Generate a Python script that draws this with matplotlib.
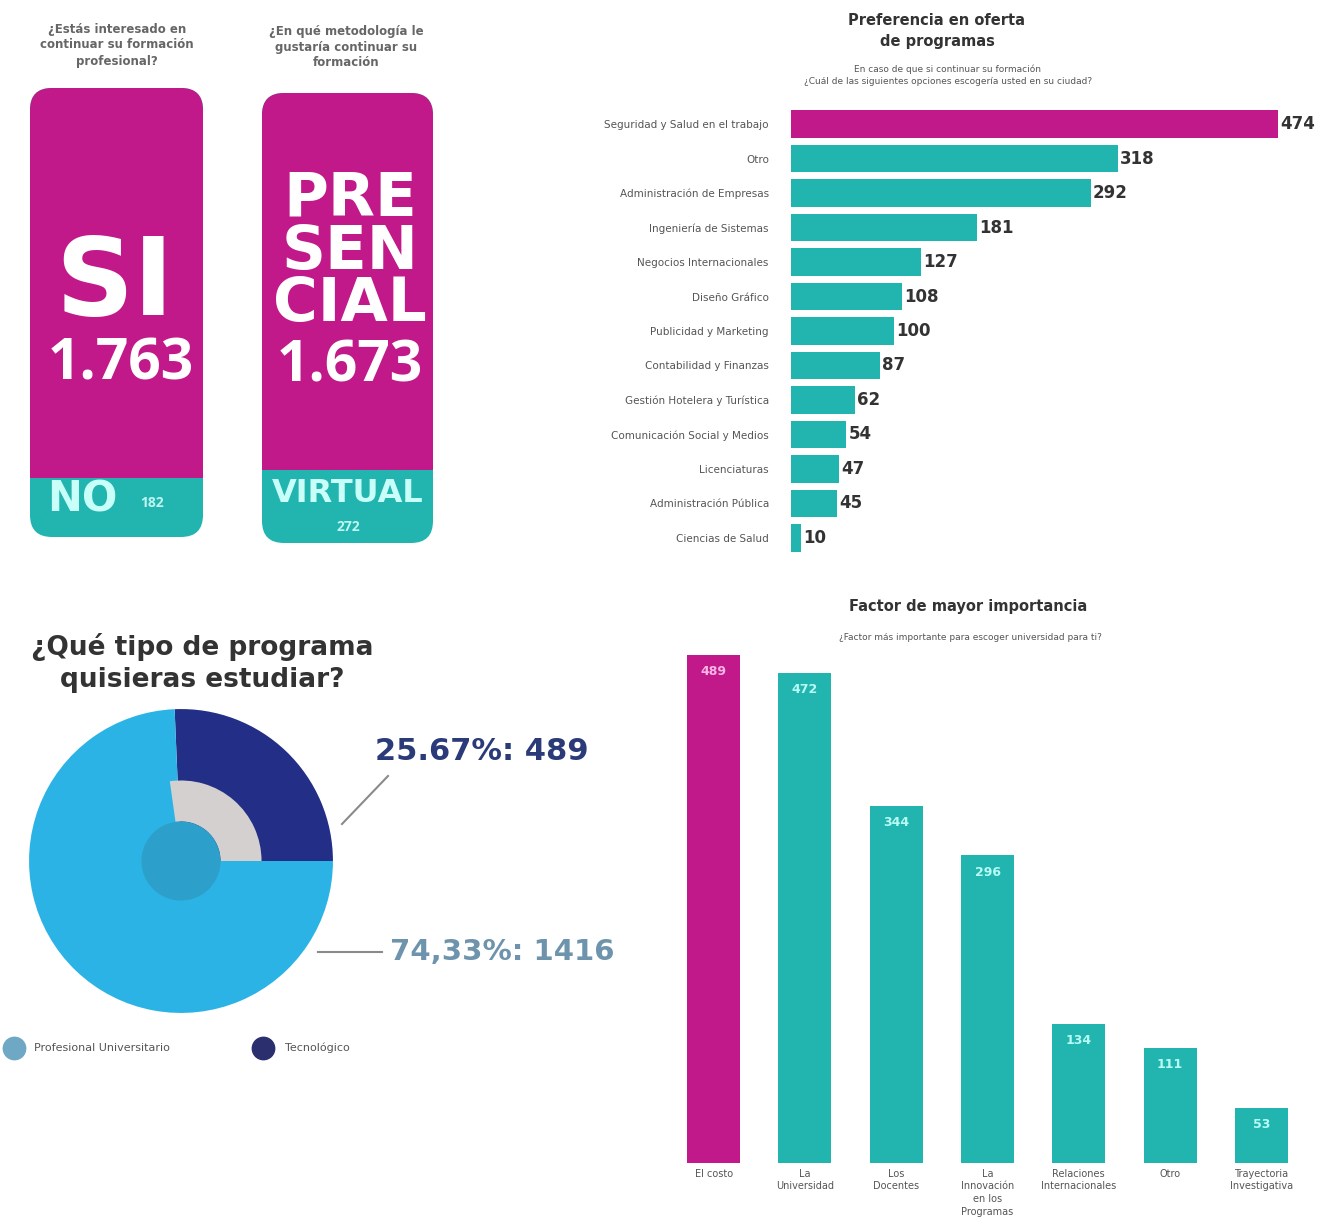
import numpy as np
import matplotlib
matplotlib.use('Agg')
import matplotlib.pyplot as plt
from matplotlib.patches import FancyBboxPatch, Rectangle, Wedge, Circle

# === Datos ===
interes_si = "1.763"
interes_no = "182"
metodo_presencial = "1.673"
metodo_virtual = "272"

programas = ["Seguridad y Salud en el trabajo", "Otro", "Administración de Empresas",
             "Ingeniería de Sistemas", "Negocios Internacionales", "Diseño Gráfico",
             "Publicidad y Marketing", "Contabilidad y Finanzas", "Gestión Hotelera y Turística",
             "Comunicación Social y Medios", "Licenciaturas", "Administración Pública",
             "Ciencias de Salud"]
programas_val = [474, 318, 292, 181, 127, 108, 100, 87, 62, 54, 47, 45, 10]

tipos = ["Tecnológico", "Profesional Universitario"]
tipos_val = [489, 1416]
tipos_pct = ["25.67%", "74,33%"]

factores = ["El costo", "La\nUniversidad", "Los\nDocentes", "La\nInnovación\nen los\nProgramas",
            "Relaciones\nInternacionales", "Otro", "Trayectoria\nInvestigativa"]
factores_val = [489, 472, 344, 296, 134, 111, 53]

# === Colores ===
ROSA = "#C2198A"
VERDE = "#22B5B0"
CELESTE = "#2BB3E6"
AZUL = "#232F86"
GRIS_TXT = "#555555"

W, H = 1341, 1229
fig = plt.figure(figsize=(W / 100, H / 100), dpi=100)
fig.patch.set_facecolor("white")


def px_axes(x0, y0, x1, y1):
    return fig.add_axes([x0 / W, 1 - y1 / H, (x1 - x0) / W, (y1 - y0) / H])


bg = fig.add_axes([0, 0, 1, 1], zorder=0)
bg.set_xlim(0, W)
bg.set_ylim(H, 0)
bg.axis("off")

NUM = "Open Sans"      # cifras grandes
LET = "DejaVu Sans"    # palabras grandes

# === Tarjetas superiores ===
def tarjeta(x0, y0, x1, y1, ycorte):
    caja = FancyBboxPatch((x0 + 22, y0 + 22), (x1 - x0) - 44, (y1 - y0) - 44,
                          boxstyle="round,pad=22", fc=VERDE, ec="none")
    bg.add_patch(caja)
    arriba = Rectangle((x0 - 5, y0 - 5), (x1 - x0) + 10, ycorte - y0 + 5, fc=ROSA, ec="none")
    bg.add_patch(arriba)
    arriba.set_clip_path(caja)

tarjeta(30, 88, 203, 537, 478)
tarjeta(262, 93, 433, 543, 470)

bg.text(117, 45, "¿Estás interesado en\ncontinuar su formación\nprofesional?", ha="center", va="center",
        fontsize=8.5, color="#666666", weight="bold", linespacing=1.3)
bg.text(346, 47, "¿En qué metodología le\ngustaría continuar su\nformación", ha="center", va="center",
        fontsize=8.5, color="#666666", weight="bold", linespacing=1.3)

bg.text(115, 285, "SI", ha="center", va="center", fontsize=78, color="white", weight="bold", family=LET)
bg.text(121, 365, interes_si, ha="center", va="center", fontsize=41, color="white", weight="bold", family=NUM)
bg.text(82, 500, "NO", ha="center", va="center", fontsize=30, color="#C8FFF8", weight="bold", family=LET)
bg.text(152, 503, interes_no, ha="center", va="center", fontsize=10, color="#BFF5F0", weight="bold", family=NUM)

bg.text(350, 252, "PRE\nSEN\nCIAL", ha="center", va="center", fontsize=44, color="white", weight="bold",
        family=LET, linespacing=0.86)
bg.text(350, 367, metodo_presencial, ha="center", va="center", fontsize=41, color="white", weight="bold", family=NUM)
bg.text(348, 494, "VIRTUAL", ha="center", va="center", fontsize=23, color="#C8FFF8", weight="bold", family=LET)
bg.text(348, 527, metodo_virtual, ha="center", va="center", fontsize=10, color="#BFF5F0", weight="bold", family=NUM)

# === Preferencia en oferta de programas ===
bg.text(937, 31, "Preferencia en oferta\nde programas", ha="center", va="center", fontsize=10.5,
        color="#333333", weight="bold", linespacing=1.5)
bg.text(948, 75, "En caso de que si continuar su formación\n¿Cuál de las siguientes opciones escogería usted en su ciudad?",
        ha="center", va="center", fontsize=6.5, color=GRIS_TXT, linespacing=1.5)

ax1 = px_axes(791, 107, 1330, 555)
ax1.set_facecolor("none")
y = np.arange(len(programas))
colores1 = [ROSA] + [VERDE] * (len(programas) - 1)
ax1.barh(y, programas_val, height=0.8, color=colores1)
ax1.set_xlim(0, (1330 - 791) / 1.027)
ax1.set_ylim(len(programas) - 0.5, -0.5)
ax1.set_yticks(y)
ax1.set_yticklabels(programas, fontsize=7.5, color=GRIS_TXT)
ax1.tick_params(axis="y", length=0, pad=16)
ax1.set_xticks([])
for s in ax1.spines.values():
    s.set_visible(False)
for i, v in enumerate(programas_val):
    ax1.text(v + 2, i, str(v), va="center", ha="left", fontsize=12, weight="bold", color="#333333")

# === Tipo de programa (pie) ===
bg.text(202, 663, "¿Qué tipo de programa\nquisieras estudiar?", ha="center", va="center", fontsize=19,
        color="#333333", weight="bold", linespacing=1.3)

cx, cy = 181, 861
ax3 = px_axes(cx - 160, cy - 160, cx + 160, cy + 160)
ax3.pie(tipos_val, colors=[AZUL, CELESTE], startangle=0, counterclock=True, radius=1,
        wedgeprops=dict(linewidth=0))
ax3.set_xlim(-1.053, 1.053)
ax3.set_ylim(-1.053, 1.053)
ax3.set_aspect("equal")
ax3.add_patch(Wedge((0, 0), 0.53, 0, 98, width=0.27, fc="#D3D0CF", ec="none"))
ax3.add_patch(Circle((0, 0), 0.26, fc="#2C9FCB", ec="none"))

bg.plot([342, 388], [824, 776], color="#8A8A8A", lw=1.5)
bg.plot([318, 382], [952, 952], color="#8A8A8A", lw=1.5)
bg.text(375, 752, f"{tipos_pct[0]}: {tipos_val[0]}", ha="left", va="center", fontsize=22,
        color="#2B3A78", weight="bold", family=LET)
bg.text(390, 952, f"{tipos_pct[1]}: {tipos_val[1]}", ha="left", va="center", fontsize=21,
        color="#6E93AD", weight="bold", family=LET)

bg.scatter([14], [1048], s=260, color="#6FA8C4", zorder=3)
bg.text(34, 1048, tipos[1], ha="left", va="center", fontsize=8, color=GRIS_TXT)
bg.scatter([263], [1048], s=260, color="#2C2F6E", zorder=3)
bg.text(285, 1048, tipos[0], ha="left", va="center", fontsize=8, color=GRIS_TXT)

# === Factor de mayor importancia ===
bg.text(968, 606, "Factor de mayor importancia", ha="center", va="center", fontsize=10.5,
        color="#333333", weight="bold")
bg.text(970, 638, "¿Factor más importante para escoger universidad para ti?", ha="center", va="center",
        fontsize=6.5, color=GRIS_TXT)

ax2 = px_axes(668, 655, 1307, 1163)
ax2.set_facecolor("none")
x = np.arange(len(factores))
colores2 = [ROSA] + [VERDE] * (len(factores) - 1)
ax2.bar(x, factores_val, width=0.58, color=colores2)
ax2.set_xlim(-0.5, len(factores) - 0.5)
ax2.set_ylim(0, factores_val[0])
ax2.set_xticks(x)
ax2.set_xticklabels(factores, fontsize=7, color=GRIS_TXT, linespacing=1.35, va="top")
ax2.tick_params(axis="x", length=0, pad=4)
ax2.set_yticks([])
for s in ax2.spines.values():
    s.set_visible(False)
for i, v in enumerate(factores_val):
    col = "#F7B5E6" if i == 0 else "#B8FBF4"
    ax2.text(i, v - 10, str(v), ha="center", va="top", fontsize=9, weight="bold", color=col)

fig.savefig("out.png", dpi=100)
